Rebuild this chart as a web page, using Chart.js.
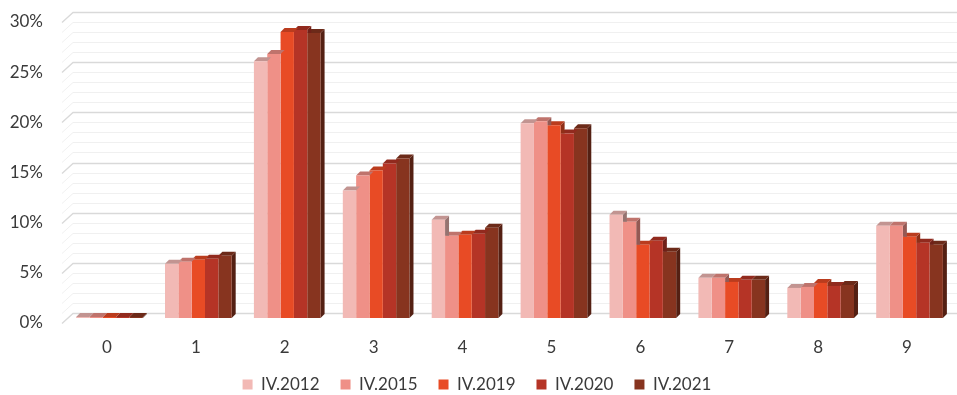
<!DOCTYPE html>
<html>
<head>
<meta charset="utf-8">
<script src="https://cdn.jsdelivr.net/npm/chart.js@4"></script>
<style>
  html, body { margin: 0; padding: 0; background: #fff; }
  #wrap { width: 957px; height: 395px; }
</style>
</head>
<body>
<div id="wrap"><canvas id="chart" width="957" height="395"></canvas></div>
<script>
const categories = ['0', '1', '2', '3', '4', '5', '6', '7', '8', '9'];
const seriesNames = ['IV.2012', 'IV.2015', 'IV.2019', 'IV.2020', 'IV.2021'];
const iv2012 = [0.1, 5.4, 25.6, 12.7, 9.8, 19.4, 10.3, 4.0, 3.0, 9.2];
const iv2015 = [0.1, 5.6, 26.3, 14.2, 8.2, 19.6, 9.6, 4.0, 3.1, 9.2];
const iv2019 = [0.1, 5.8, 28.5, 14.7, 8.3, 19.2, 7.3, 3.6, 3.5, 8.1];
const iv2020 = [0.1, 5.9, 28.7, 15.4, 8.4, 18.4, 7.7, 3.8, 3.2, 7.5];
const iv2021 = [0.1, 6.2, 28.4, 15.9, 9.0, 18.9, 6.6, 3.8, 3.3, 7.3];
const yTicks = [0, 5, 10, 15, 20, 25, 30];

const seriesData = [iv2012, iv2015, iv2019, iv2020, iv2021];
const colors = ['#F2B9B5', '#EF9087', '#E84B25', '#B53426', '#87341F'];

// darken a hex colour by a factor
function shade(hex, f) {
    const n = parseInt(hex.slice(1), 16);
    const r = Math.round(((n >> 16) & 255) * f);
    const g = Math.round(((n >> 8) & 255) * f);
    const b = Math.round((n & 255) * f);
    return `rgb(${r},${g},${b})`;
}

const DEPTH = 4;

// back wall grid, one line per percent, with the slanted left edge
const wallGrid = {
    id: 'wallGrid',
    beforeDatasetsDraw(chart) {
        const ctx = chart.ctx;
        const y = chart.scales.y;
        const left = chart.chartArea.left;
        ctx.save();
        for (let v = 0; v <= 30; v++) {
            const py = Math.round(y.getPixelForValue(v)) + 0.5;
            ctx.strokeStyle = v % 5 === 0 ? '#d9d9d9' : '#f0f0f0';
            ctx.lineWidth = v % 5 === 0 ? 1.3 : 1;
            ctx.beginPath();
            ctx.moveTo(left - 3, py + 5);
            ctx.lineTo(left + 8, py - 5);
            ctx.lineTo(chart.width, py - 5);
            ctx.stroke();
        }
        ctx.restore();
    }
};

// top and side faces, drawn before each dataset so the next bar covers them;
// a side face only shows above the neighbouring bar of the same group
const barDepth = {
    id: 'barDepth',
    beforeDatasetDraw(chart, args) {
        const ctx = chart.ctx;
        const color = colors[args.index];
        const next = args.index < seriesData.length - 1 ? chart.getDatasetMeta(args.index + 1) : null;
        ctx.save();
        args.meta.data.forEach((bar, j) => {
            const l = bar.x - bar.width / 2;
            const r = bar.x + bar.width / 2;
            const t = bar.y;
            let b = bar.base;
            if (next) b = Math.min(b, next.data[j].y);
            if (b > t) {
                ctx.fillStyle = shade(color, 0.62);
                ctx.beginPath();
                ctx.moveTo(r, t);
                ctx.lineTo(r + DEPTH, t - DEPTH);
                ctx.lineTo(r + DEPTH, b - (next ? 0 : DEPTH));
                ctx.lineTo(r, b);
                ctx.closePath();
                ctx.fill();
            }
            ctx.fillStyle = shade(color, 0.8);
            ctx.beginPath();
            ctx.moveTo(l, t);
            ctx.lineTo(l + DEPTH, t - DEPTH);
            ctx.lineTo(r + DEPTH, t - DEPTH);
            ctx.lineTo(r, t);
            ctx.closePath();
            ctx.fill();
        });
        ctx.restore();
    }
};

const textColor = '#3a3a3a';
const font = { family: 'Lato', size: 17 };

new Chart(document.getElementById('chart'), {
    type: 'bar',
    data: {
        labels: categories,
        datasets: seriesData.map((d, i) => ({
            label: seriesNames[i],
            data: d,
            backgroundColor: colors[i],
            borderWidth: 0,
            categoryPercentage: 0.75,
            barPercentage: 1.0
        }))
    },
    options: {
        responsive: false,
        animation: false,
        layout: {
            autoPadding: false,
            padding: { top: 17, right: 3, left: 0, bottom: -8 }
        },
        plugins: {
            tooltip: { enabled: false },
            legend: {
                position: 'bottom',
                labels: {
                    color: textColor,
                    font: font,
                    boxWidth: 10,
                    boxHeight: 10,
                    padding: 21
                }
            }
        },
        scales: {
            x: {
                grid: { display: false, drawTicks: false },
                border: { display: false },
                ticks: { color: textColor, font: font, padding: 19, labelOffset: -2.5 },
                afterFit(scale) { scale.height = 37; }
            },
            y: {
                min: 0,
                max: 30,
                grid: { display: false, drawTicks: false },
                border: { display: false },
                ticks: {
                    stepSize: 1,
                    color: textColor,
                    font: font,
                    padding: 22,
                    labelOffset: 5,
                    autoSkip: false,
                    callback: v => yTicks.includes(v) ? v + '%' : ''
                },
                afterFit(scale) {
                    scale.width = 65;
                    scale.paddingTop = 0;
                    scale.paddingBottom = 0;
                }
            }
        }
    },
    plugins: [wallGrid, barDepth]
});
</script>
</body>
</html>
